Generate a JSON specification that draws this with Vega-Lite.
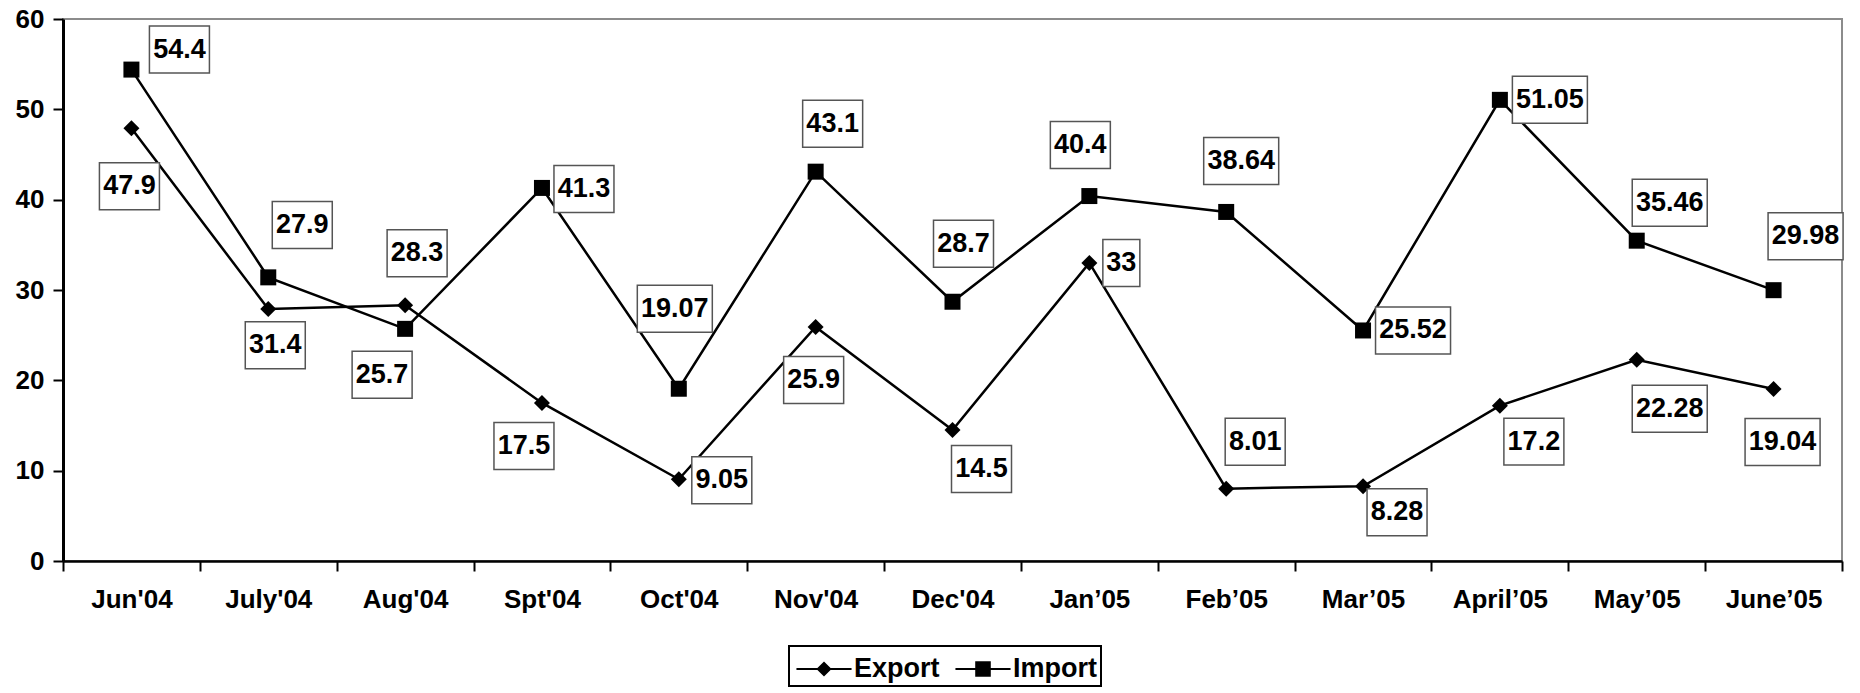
{
  "$schema": "https://vega.github.io/schema/vega-lite/v6.json",
  "width": 1779,
  "height": 542,
  "autosize": {"type": "none"},
  "padding": {"left": 63, "top": 19, "right": 18, "bottom": 132},
  "background": "white",
  "data": {
    "values": [
      {"month": "Jun'04", "series": "Export", "value": 47.9},
      {"month": "July'04", "series": "Export", "value": 27.9},
      {"month": "Aug'04", "series": "Export", "value": 28.3},
      {"month": "Spt'04", "series": "Export", "value": 17.5},
      {"month": "Oct'04", "series": "Export", "value": 9.05},
      {"month": "Nov'04", "series": "Export", "value": 25.9},
      {"month": "Dec'04", "series": "Export", "value": 14.5},
      {"month": "Jan’05", "series": "Export", "value": 33},
      {"month": "Feb’05", "series": "Export", "value": 8.01},
      {"month": "Mar’05", "series": "Export", "value": 8.28},
      {"month": "April’05", "series": "Export", "value": 17.2},
      {"month": "May’05", "series": "Export", "value": 22.28},
      {"month": "June’05", "series": "Export", "value": 19.04},
      {"month": "Jun'04", "series": "Import", "value": 54.4},
      {"month": "July'04", "series": "Import", "value": 31.4},
      {"month": "Aug'04", "series": "Import", "value": 25.7},
      {"month": "Spt'04", "series": "Import", "value": 41.3},
      {"month": "Oct'04", "series": "Import", "value": 19.07},
      {"month": "Nov'04", "series": "Import", "value": 43.1},
      {"month": "Dec'04", "series": "Import", "value": 28.7},
      {"month": "Jan’05", "series": "Import", "value": 40.4},
      {"month": "Feb’05", "series": "Import", "value": 38.64},
      {"month": "Mar’05", "series": "Import", "value": 25.52},
      {"month": "April’05", "series": "Import", "value": 51.05},
      {"month": "May’05", "series": "Import", "value": 35.46},
      {"month": "June’05", "series": "Import", "value": 29.98}
    ]
  },
  "encoding": {
    "x": {
      "field": "month", "type": "ordinal",
      "scale": {"type": "band", "paddingInner": 0, "paddingOuter": 0,
        "domain": ["Jun'04", "July'04", "Aug'04", "Spt'04", "Oct'04", "Nov'04", "Dec'04", "Jan’05", "Feb’05", "Mar’05", "April’05", "May’05", "June’05"]},
      "axis": {"title": null, "labelAngle": 0, "labelFontSize": 26, "labelFontWeight": "bold", "labelColor": "black", "labelPadding": 15,
        "domainColor": "black", "domainWidth": 2.5, "tickColor": "black", "tickWidth": 2, "tickSize": 10, "tickBand": "extent", "grid": false}
    },
    "y": {
      "field": "value", "type": "quantitative",
      "scale": {"domain": [0, 60], "nice": false, "zero": true},
      "axis": {"title": null, "values": [0, 10, 20, 30, 40, 50, 60], "labelFontSize": 26, "labelFontWeight": "bold", "labelColor": "black", "labelPadding": 9,
        "domainColor": "black", "domainWidth": 3, "tickColor": "black", "tickWidth": 2, "tickSize": 10, "grid": false}
    }
  },
  "layer": [
    {"mark": {"type": "line", "color": "black", "strokeWidth": 2.5}, "encoding": {"detail": {"field": "series"}}},
    {"mark": {"type": "point", "filled": true, "color": "black", "opacity": 1, "size": 256},
     "encoding": {"shape": {"field": "series", "type": "nominal", "scale": {"domain": ["Export", "Import"], "range": ["diamond", "square"]}, "legend": null}}},
    {"transform": [{"filter": "false"}],
     "mark": {"type": "point", "filled": true, "color": "black", "opacity": 1, "size": 1444},
     "encoding": {"shape": {"field": "series", "type": "nominal",
       "scale": {"domain": ["Export", "Import"], "range": ["M-1.45,-0.055H1.45V0.055H-1.45ZM0,-0.4L0.4,0L0,0.4L-0.4,0Z", "M-1.45,-0.055H1.45V0.055H-1.45ZM-0.41,-0.41H0.41V0.41H-0.41Z"]},
       "legend": {"orient": "none", "legendX": 726, "legendY": 627, "direction": "horizontal", "title": null,
         "labelFontSize": 27, "labelFontWeight": "bold", "labelColor": "black", "labelOffset": 11, "columnPadding": 12,
         "symbolOffset": 12, "symbolSize": 1444, "symbolStrokeWidth": 0, "symbolFillColor": "black",
         "strokeColor": "black", "padding": 4,
         "encode": {"symbols": {"update": {"fill": {"value": "black"}, "opacity": {"value": 1}, "strokeWidth": {"value": 0}}}}}}}},
    {"transform": [{"filter": {"and": [{"field": "series", "equal": "Import"}, {"field": "month", "equal": "Jun'04"}]}}],
     "layer": [{"mark": {"type": "point", "style": "box4", "fill": "white", "stroke": "#555555", "xOffset": 48, "yOffset": -20}}, {"mark": {"type": "text", "style": "lbl", "color": "black", "dx": 48, "dy": -20}, "encoding": {"text": {"field": "value", "type": "nominal"}}}]},
    {"transform": [{"filter": {"and": [{"field": "series", "equal": "Import"}, {"field": "month", "equal": "July'04"}]}}],
     "layer": [{"mark": {"type": "point", "style": "box4", "fill": "white", "stroke": "#555555", "xOffset": 7, "yOffset": 68}}, {"mark": {"type": "text", "style": "lbl", "color": "black", "dx": 7, "dy": 68}, "encoding": {"text": {"field": "value", "type": "nominal"}}}]},
    {"transform": [{"filter": {"and": [{"field": "series", "equal": "Import"}, {"field": "month", "equal": "Aug'04"}]}}],
     "layer": [{"mark": {"type": "point", "style": "box4", "fill": "white", "stroke": "#555555", "xOffset": -23, "yOffset": 46}}, {"mark": {"type": "text", "style": "lbl", "color": "black", "dx": -23, "dy": 46}, "encoding": {"text": {"field": "value", "type": "nominal"}}}]},
    {"transform": [{"filter": {"and": [{"field": "series", "equal": "Import"}, {"field": "month", "equal": "Spt'04"}]}}],
     "layer": [{"mark": {"type": "point", "style": "box4", "fill": "white", "stroke": "#555555", "xOffset": 42, "yOffset": 1}}, {"mark": {"type": "text", "style": "lbl", "color": "black", "dx": 42, "dy": 1}, "encoding": {"text": {"field": "value", "type": "nominal"}}}]},
    {"transform": [{"filter": {"and": [{"field": "series", "equal": "Import"}, {"field": "month", "equal": "Oct'04"}]}}],
     "layer": [{"mark": {"type": "point", "style": "box5", "fill": "white", "stroke": "#555555", "xOffset": -4, "yOffset": -80}}, {"mark": {"type": "text", "style": "lbl", "color": "black", "dx": -4, "dy": -80}, "encoding": {"text": {"field": "value", "type": "nominal"}}}]},
    {"transform": [{"filter": {"and": [{"field": "series", "equal": "Import"}, {"field": "month", "equal": "Nov'04"}]}}],
     "layer": [{"mark": {"type": "point", "style": "box4", "fill": "white", "stroke": "#555555", "xOffset": 17, "yOffset": -48}}, {"mark": {"type": "text", "style": "lbl", "color": "black", "dx": 17, "dy": -48}, "encoding": {"text": {"field": "value", "type": "nominal"}}}]},
    {"transform": [{"filter": {"and": [{"field": "series", "equal": "Import"}, {"field": "month", "equal": "Dec'04"}]}}],
     "layer": [{"mark": {"type": "point", "style": "box4", "fill": "white", "stroke": "#555555", "xOffset": 11, "yOffset": -58}}, {"mark": {"type": "text", "style": "lbl", "color": "black", "dx": 11, "dy": -58}, "encoding": {"text": {"field": "value", "type": "nominal"}}}]},
    {"transform": [{"filter": {"and": [{"field": "series", "equal": "Import"}, {"field": "month", "equal": "Jan’05"}]}}],
     "layer": [{"mark": {"type": "point", "style": "box4", "fill": "white", "stroke": "#555555", "xOffset": -9, "yOffset": -51}}, {"mark": {"type": "text", "style": "lbl", "color": "black", "dx": -9, "dy": -51}, "encoding": {"text": {"field": "value", "type": "nominal"}}}]},
    {"transform": [{"filter": {"and": [{"field": "series", "equal": "Import"}, {"field": "month", "equal": "Feb’05"}]}}],
     "layer": [{"mark": {"type": "point", "style": "box5", "fill": "white", "stroke": "#555555", "xOffset": 15, "yOffset": -51}}, {"mark": {"type": "text", "style": "lbl", "color": "black", "dx": 15, "dy": -51}, "encoding": {"text": {"field": "value", "type": "nominal"}}}]},
    {"transform": [{"filter": {"and": [{"field": "series", "equal": "Import"}, {"field": "month", "equal": "Mar’05"}]}}],
     "layer": [{"mark": {"type": "point", "style": "box5", "fill": "white", "stroke": "#555555", "xOffset": 50, "yOffset": 0}}, {"mark": {"type": "text", "style": "lbl", "color": "black", "dx": 50, "dy": 0}, "encoding": {"text": {"field": "value", "type": "nominal"}}}]},
    {"transform": [{"filter": {"and": [{"field": "series", "equal": "Import"}, {"field": "month", "equal": "April’05"}]}}],
     "layer": [{"mark": {"type": "point", "style": "box5", "fill": "white", "stroke": "#555555", "xOffset": 50, "yOffset": 0}}, {"mark": {"type": "text", "style": "lbl", "color": "black", "dx": 50, "dy": 0}, "encoding": {"text": {"field": "value", "type": "nominal"}}}]},
    {"transform": [{"filter": {"and": [{"field": "series", "equal": "Import"}, {"field": "month", "equal": "May’05"}]}}],
     "layer": [{"mark": {"type": "point", "style": "box5", "fill": "white", "stroke": "#555555", "xOffset": 33, "yOffset": -38}}, {"mark": {"type": "text", "style": "lbl", "color": "black", "dx": 33, "dy": -38}, "encoding": {"text": {"field": "value", "type": "nominal"}}}]},
    {"transform": [{"filter": {"and": [{"field": "series", "equal": "Import"}, {"field": "month", "equal": "June’05"}]}}],
     "layer": [{"mark": {"type": "point", "style": "box5", "fill": "white", "stroke": "#555555", "xOffset": 32, "yOffset": -54}}, {"mark": {"type": "text", "style": "lbl", "color": "black", "dx": 32, "dy": -54}, "encoding": {"text": {"field": "value", "type": "nominal"}}}]},
    {"transform": [{"filter": {"and": [{"field": "series", "equal": "Export"}, {"field": "month", "equal": "Jun'04"}]}}],
     "layer": [{"mark": {"type": "point", "style": "box4", "fill": "white", "stroke": "#555555", "xOffset": -2, "yOffset": 58}}, {"mark": {"type": "text", "style": "lbl", "color": "black", "dx": -2, "dy": 58}, "encoding": {"text": {"field": "value", "type": "nominal"}}}]},
    {"transform": [{"filter": {"and": [{"field": "series", "equal": "Export"}, {"field": "month", "equal": "July'04"}]}}],
     "layer": [{"mark": {"type": "point", "style": "box4", "fill": "white", "stroke": "#555555", "xOffset": 34, "yOffset": -84}}, {"mark": {"type": "text", "style": "lbl", "color": "black", "dx": 34, "dy": -84}, "encoding": {"text": {"field": "value", "type": "nominal"}}}]},
    {"transform": [{"filter": {"and": [{"field": "series", "equal": "Export"}, {"field": "month", "equal": "Aug'04"}]}}],
     "layer": [{"mark": {"type": "point", "style": "box4", "fill": "white", "stroke": "#555555", "xOffset": 12, "yOffset": -52}}, {"mark": {"type": "text", "style": "lbl", "color": "black", "dx": 12, "dy": -52}, "encoding": {"text": {"field": "value", "type": "nominal"}}}]},
    {"transform": [{"filter": {"and": [{"field": "series", "equal": "Export"}, {"field": "month", "equal": "Spt'04"}]}}],
     "layer": [{"mark": {"type": "point", "style": "box4", "fill": "white", "stroke": "#555555", "xOffset": -18, "yOffset": 43}}, {"mark": {"type": "text", "style": "lbl", "color": "black", "dx": -18, "dy": 43}, "encoding": {"text": {"field": "value", "type": "nominal"}}}]},
    {"transform": [{"filter": {"and": [{"field": "series", "equal": "Export"}, {"field": "month", "equal": "Oct'04"}]}}],
     "layer": [{"mark": {"type": "point", "style": "box4", "fill": "white", "stroke": "#555555", "xOffset": 43, "yOffset": 1}}, {"mark": {"type": "text", "style": "lbl", "color": "black", "dx": 43, "dy": 1}, "encoding": {"text": {"field": "value", "type": "nominal"}}}]},
    {"transform": [{"filter": {"and": [{"field": "series", "equal": "Export"}, {"field": "month", "equal": "Nov'04"}]}}],
     "layer": [{"mark": {"type": "point", "style": "box4", "fill": "white", "stroke": "#555555", "xOffset": -2, "yOffset": 53}}, {"mark": {"type": "text", "style": "lbl", "color": "black", "dx": -2, "dy": 53}, "encoding": {"text": {"field": "value", "type": "nominal"}}}]},
    {"transform": [{"filter": {"and": [{"field": "series", "equal": "Export"}, {"field": "month", "equal": "Dec'04"}]}}],
     "layer": [{"mark": {"type": "point", "style": "box4", "fill": "white", "stroke": "#555555", "xOffset": 29, "yOffset": 39}}, {"mark": {"type": "text", "style": "lbl", "color": "black", "dx": 29, "dy": 39}, "encoding": {"text": {"field": "value", "type": "nominal"}}}]},
    {"transform": [{"filter": {"and": [{"field": "series", "equal": "Export"}, {"field": "month", "equal": "Jan’05"}]}}],
     "layer": [{"mark": {"type": "point", "style": "box2", "fill": "white", "stroke": "#555555", "xOffset": 32, "yOffset": 0}}, {"mark": {"type": "text", "style": "lbl", "color": "black", "dx": 32, "dy": 0}, "encoding": {"text": {"field": "value", "type": "nominal"}}}]},
    {"transform": [{"filter": {"and": [{"field": "series", "equal": "Export"}, {"field": "month", "equal": "Feb’05"}]}}],
     "layer": [{"mark": {"type": "point", "style": "box4", "fill": "white", "stroke": "#555555", "xOffset": 29, "yOffset": -47}}, {"mark": {"type": "text", "style": "lbl", "color": "black", "dx": 29, "dy": -47}, "encoding": {"text": {"field": "value", "type": "nominal"}}}]},
    {"transform": [{"filter": {"and": [{"field": "series", "equal": "Export"}, {"field": "month", "equal": "Mar’05"}]}}],
     "layer": [{"mark": {"type": "point", "style": "box4", "fill": "white", "stroke": "#555555", "xOffset": 34, "yOffset": 26}}, {"mark": {"type": "text", "style": "lbl", "color": "black", "dx": 34, "dy": 26}, "encoding": {"text": {"field": "value", "type": "nominal"}}}]},
    {"transform": [{"filter": {"and": [{"field": "series", "equal": "Export"}, {"field": "month", "equal": "April’05"}]}}],
     "layer": [{"mark": {"type": "point", "style": "box4", "fill": "white", "stroke": "#555555", "xOffset": 34, "yOffset": 36}}, {"mark": {"type": "text", "style": "lbl", "color": "black", "dx": 34, "dy": 36}, "encoding": {"text": {"field": "value", "type": "nominal"}}}]},
    {"transform": [{"filter": {"and": [{"field": "series", "equal": "Export"}, {"field": "month", "equal": "May’05"}]}}],
     "layer": [{"mark": {"type": "point", "style": "box5", "fill": "white", "stroke": "#555555", "xOffset": 33, "yOffset": 49}}, {"mark": {"type": "text", "style": "lbl", "color": "black", "dx": 33, "dy": 49}, "encoding": {"text": {"field": "value", "type": "nominal"}}}]},
    {"transform": [{"filter": {"and": [{"field": "series", "equal": "Export"}, {"field": "month", "equal": "June’05"}]}}],
     "layer": [{"mark": {"type": "point", "style": "box5", "fill": "white", "stroke": "#555555", "xOffset": 9, "yOffset": 53}}, {"mark": {"type": "text", "style": "lbl", "color": "black", "dx": 9, "dy": 53}, "encoding": {"text": {"field": "value", "type": "nominal"}}}]}
  ],
  "resolve": {"scale": {"shape": "independent"}, "legend": {"shape": "independent"}},
  "config": {
    "font": "Liberation Sans",
    "view": {"stroke": "#8c8c8c", "strokeWidth": 2},
    "legend": {"strokeWidth": 2},
    "style": {
      "box4": {"shape": "M-1,-0.783H1V0.783H-1Z", "size": 3600, "filled": true, "strokeWidth": 1.5, "opacity": 1},
      "box5": {"shape": "M-1,-0.627H1V0.627H-1Z", "size": 5625, "filled": true, "strokeWidth": 1.5, "opacity": 1},
      "box2": {"shape": "M-0.787,-1H0.787V1H-0.787Z", "size": 2209, "filled": true, "strokeWidth": 1.5, "opacity": 1},
      "lbl": {"fontSize": 27, "fontWeight": "bold", "align": "center", "baseline": "middle"}
    }
  }
}
